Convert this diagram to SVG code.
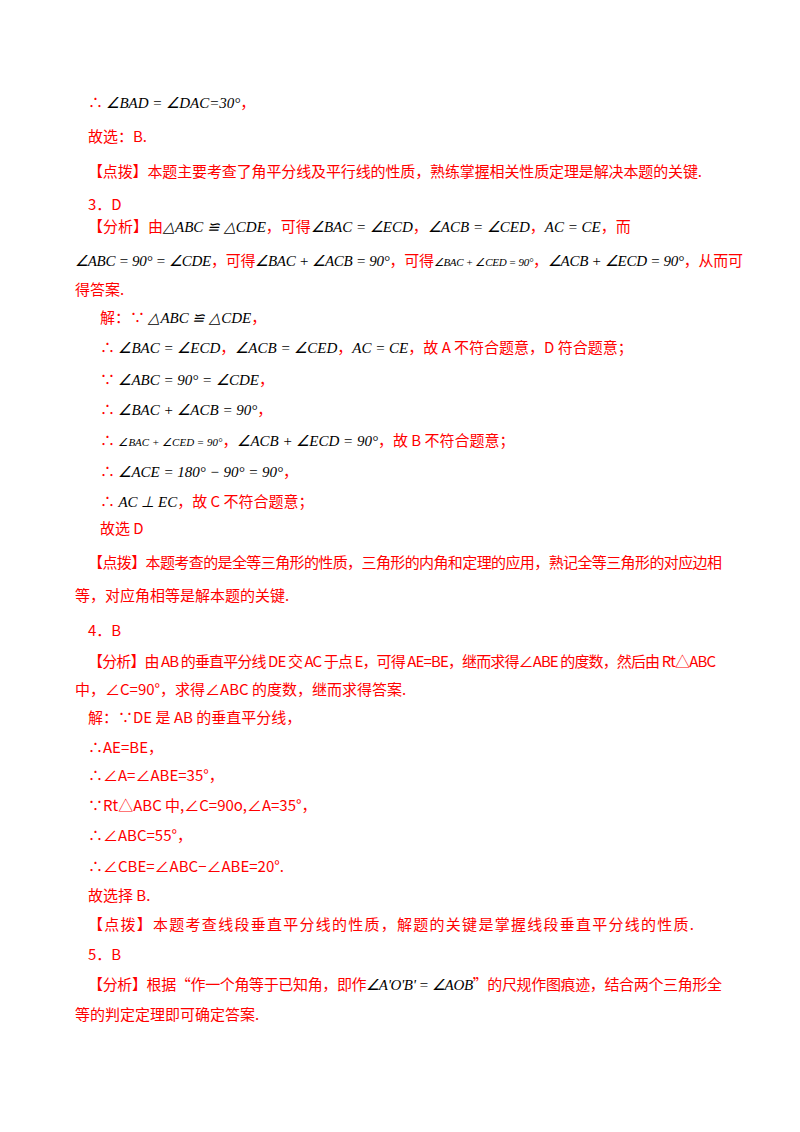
<svg xmlns="http://www.w3.org/2000/svg" width="800" height="1132" viewBox="0 0 800 1132">
<style>
text{font-family:"Noto Sans CJK SC","Liberation Sans",sans-serif;font-size:15px;fill:#FF0000}
.m{font-family:"Liberation Serif",serif;font-style:italic;fill:#000;font-size:15px}
.s{font-size:11px}
</style>
<rect width="800" height="1132" fill="#fff"/>
<g id="text">
<text x="88" y="108">∴ <tspan class="m">∠BAD = ∠DAC=30°</tspan>，</text>
<text x="88" y="142">故选：B.</text>
<text x="88" y="177" textLength="614" lengthAdjust="spacing">【点拨】本题主要考查了角平分线及平行线的性质，熟练掌握相关性质定理是解决本题的关键.</text>
<text x="88" y="210">3．D</text>
<text x="88" y="232">【分析】由<tspan class="m">△ABC ≌ △CDE</tspan>，可得<tspan class="m">∠BAC = ∠ECD</tspan>，<tspan class="m">∠ACB = ∠CED</tspan>，<tspan class="m">AC = CE</tspan>，而</text>
<text x="75" y="266" textLength="668" lengthAdjust="spacing"><tspan class="m">∠ABC = 90° = ∠CDE</tspan>，可得<tspan class="m">∠BAC + ∠ACB = 90°</tspan>，可得<tspan class="m s">∠BAC + ∠CED = 90°</tspan>，<tspan class="m">∠ACB + ∠ECD = 90°</tspan>，从而可</text>
<text x="75" y="295">得答案.</text>
<text x="100" y="323">解：∵ <tspan class="m">△ABC ≌ △CDE</tspan>，</text>
<text x="100" y="353">∴ <tspan class="m">∠BAC = ∠ECD</tspan>，<tspan class="m">∠ACB = ∠CED</tspan>，<tspan class="m">AC = CE</tspan>，故 A 不符合题意，D 符合题意；</text>
<text x="100" y="385">∵ <tspan class="m">∠ABC = 90° = ∠CDE</tspan>，</text>
<text x="100" y="415">∴ <tspan class="m">∠BAC + ∠ACB = 90°</tspan>，</text>
<text x="100" y="446">∴ <tspan class="m s">∠BAC + ∠CED = 90°</tspan>，<tspan class="m">∠ACB + ∠ECD = 90°</tspan>，故 B 不符合题意；</text>
<text x="100" y="477">∴ <tspan class="m">∠ACE = 180° − 90° = 90°</tspan>，</text>
<text x="100" y="507">∴ <tspan class="m">AC ⊥ EC</tspan>，故 C 不符合题意；</text>
<text x="100" y="534">故选 D</text>
<text x="88" y="568" textLength="634" lengthAdjust="spacing">【点拨】本题考查的是全等三角形的性质，三角形的内角和定理的应用，熟记全等三角形的对应边相</text>
<text x="75" y="601">等，对应角相等是解本题的关键.</text>
<text x="88" y="636">4．B</text>
<text x="88" y="667" textLength="628" lengthAdjust="spacing">【分析】由 AB 的垂直平分线 DE 交 AC 于点 E，可得 AE=BE，继而求得∠ABE 的度数，然后由 Rt△ABC</text>
<text x="75" y="695">中，∠C=90°，求得∠ABC 的度数，继而求得答案.</text>
<text x="88" y="723">解：∵DE 是 AB 的垂直平分线，</text>
<text x="88" y="753">∴AE=BE，</text>
<text x="88" y="781">∴∠A=∠ABE=35°，</text>
<text x="88" y="811">∵Rt△ABC 中,∠C=90o,∠A=35°，</text>
<text x="88" y="841">∴∠ABC=55°，</text>
<text x="88" y="872">∴∠CBE=∠ABC−∠ABE=20°.</text>
<text x="88" y="901">故选择 B.</text>
<text x="88" y="930" textLength="606" lengthAdjust="spacing">【点拨】本题考查线段垂直平分线的性质，解题的关键是掌握线段垂直平分线的性质.</text>
<text x="88" y="960">5．B</text>
<text x="88" y="990" textLength="634" lengthAdjust="spacing">【分析】根据“作一个角等于已知角，即作<tspan class="m">∠A'O'B' = ∠AOB</tspan>”的尺规作图痕迹，结合两个三角形全</text>
<text x="75" y="1020">等的判定定理即可确定答案.</text>
</g>
</svg>
